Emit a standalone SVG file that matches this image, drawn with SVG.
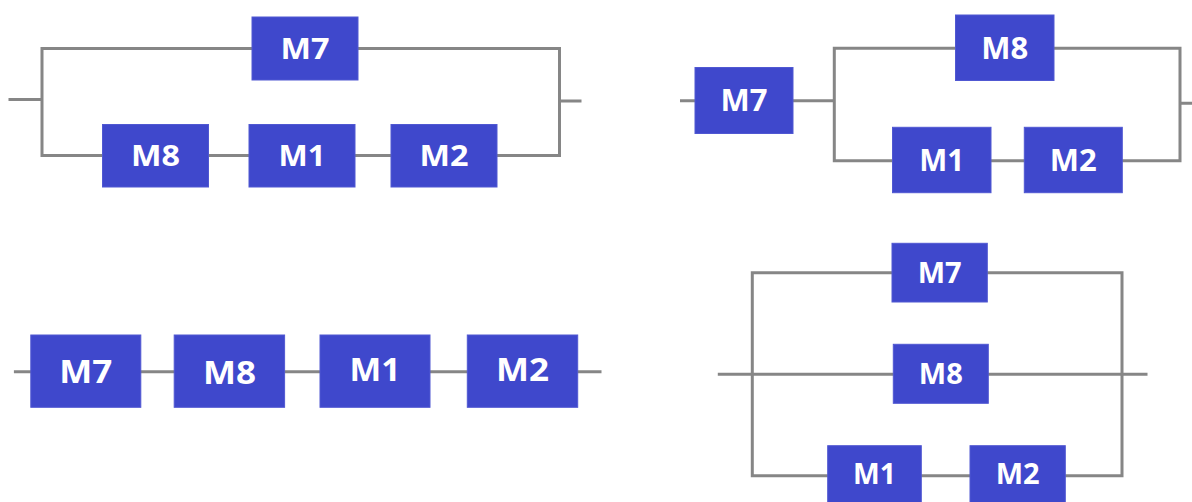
<svg xmlns="http://www.w3.org/2000/svg" width="1192" height="502" viewBox="0 0 1192 502">
<style>
.box{fill:#3F48CC;stroke:#5058D2;stroke-width:1}
.lbl{fill:#ffffff;font-family:"Open Sans","Liberation Sans",sans-serif;font-weight:700;text-anchor:middle}
.f1{font-size:29px}
.f2{font-size:30px}
.f3{font-size:32px}
.f4{font-size:28px}
.wire{fill:none;stroke:#868686;stroke-width:3;stroke-linecap:square;stroke-linejoin:miter}
</style>
<rect width="1192" height="502" fill="#ffffff"/>
<g id="connectors">
  <!-- diagram 1 -->
  <path class="wire" d="M10 99.5 H42 M42 48.5 V155.5 M42 48.5 H559.5 M42 155.5 H559.5 M559.5 48.5 V155.5 M559.5 101 H580"/>
  <!-- diagram 2 -->
  <path class="wire" d="M681.5 100.7 H695 M793 100.7 H834.3 M834.3 48.3 V160.7 M834.3 48.3 H1180 M834.3 160.7 H1180 M1180 48.3 V160.7 M1180 103.3 H1194"/>
  <!-- diagram 3 -->
  <path class="wire" d="M15.4 371.7 H600"/>
  <!-- diagram 4 -->
  <path class="wire" d="M752.3 272.7 H1122 M752.3 272.7 V475.7 M1122 272.7 V475.7 M719.3 374.3 H1146 M752.3 475.7 H1122"/>
</g>
<!-- diagram 1 -->
<g id="d1-M7"><rect class="box" x="252" y="17" width="106" height="63"/><text class="lbl f1" x="305" y="59" textLength="49" lengthAdjust="spacingAndGlyphs">M7</text></g>
<g id="d1-M8"><rect class="box" x="102.5" y="124.5" width="106" height="62.5"/><text class="lbl f1" x="155.5" y="166" textLength="49" lengthAdjust="spacingAndGlyphs">M8</text></g>
<g id="d1-M1"><rect class="box" x="249" y="124.5" width="106" height="62.5"/><text class="lbl f1" x="302" y="166" textLength="47" lengthAdjust="spacingAndGlyphs">M1</text></g>
<g id="d1-M2"><rect class="box" x="391" y="124.5" width="106" height="62.5"/><text class="lbl f1" x="444" y="166" textLength="49" lengthAdjust="spacingAndGlyphs">M2</text></g>
<!-- diagram 2 -->
<g id="d2-M7"><rect class="box" x="695" y="67.5" width="98" height="66"/><text class="lbl f2" x="744" y="111.3" textLength="47" lengthAdjust="spacingAndGlyphs">M7</text></g>
<g id="d2-M8"><rect class="box" x="955.5" y="15" width="98.5" height="65.5"/><text class="lbl f2" x="1004.8" y="58.5" textLength="47" lengthAdjust="spacingAndGlyphs">M8</text></g>
<g id="d2-M1"><rect class="box" x="892.5" y="127.3" width="98.5" height="65.4"/><text class="lbl f2" x="941.8" y="170.8" textLength="45" lengthAdjust="spacingAndGlyphs">M1</text></g>
<g id="d2-M2"><rect class="box" x="1024.3" y="127.3" width="98" height="65.4"/><text class="lbl f2" x="1073.3" y="170.8" textLength="47" lengthAdjust="spacingAndGlyphs">M2</text></g>
<!-- diagram 3 -->
<g id="d3-M7"><rect class="box" x="30.8" y="335" width="110" height="72.3"/><text class="lbl f3" x="85.8" y="383" textLength="53" lengthAdjust="spacingAndGlyphs">M7</text></g>
<g id="d3-M8"><rect class="box" x="174.2" y="335" width="110.4" height="72.3"/><text class="lbl f3" x="229.4" y="384" textLength="53" lengthAdjust="spacingAndGlyphs">M8</text></g>
<g id="d3-M1"><rect class="box" x="320" y="335" width="110" height="72.3"/><text class="lbl f3" x="375" y="381" textLength="51" lengthAdjust="spacingAndGlyphs">M1</text></g>
<g id="d3-M2"><rect class="box" x="467.3" y="335" width="110.4" height="72.3"/><text class="lbl f3" x="522.5" y="381" textLength="53" lengthAdjust="spacingAndGlyphs">M2</text></g>
<!-- diagram 4 -->
<g id="d4-M7"><rect class="box" x="892" y="243.3" width="95.3" height="58.7"/><text class="lbl f4" x="939.7" y="282.7" textLength="44" lengthAdjust="spacingAndGlyphs">M7</text></g>
<g id="d4-M8"><rect class="box" x="893.3" y="344.3" width="95" height="59"/><text class="lbl f4" x="940.8" y="383.8" textLength="44" lengthAdjust="spacingAndGlyphs">M8</text></g>
<g id="d4-M1"><rect class="box" x="827.7" y="445.7" width="93.6" height="59"/><text class="lbl f4" x="874.5" y="484" textLength="43" lengthAdjust="spacingAndGlyphs">M1</text></g>
<g id="d4-M2"><rect class="box" x="970" y="445.7" width="95.3" height="59"/><text class="lbl f4" x="1017.7" y="484" textLength="44" lengthAdjust="spacingAndGlyphs">M2</text></g>
</svg>
